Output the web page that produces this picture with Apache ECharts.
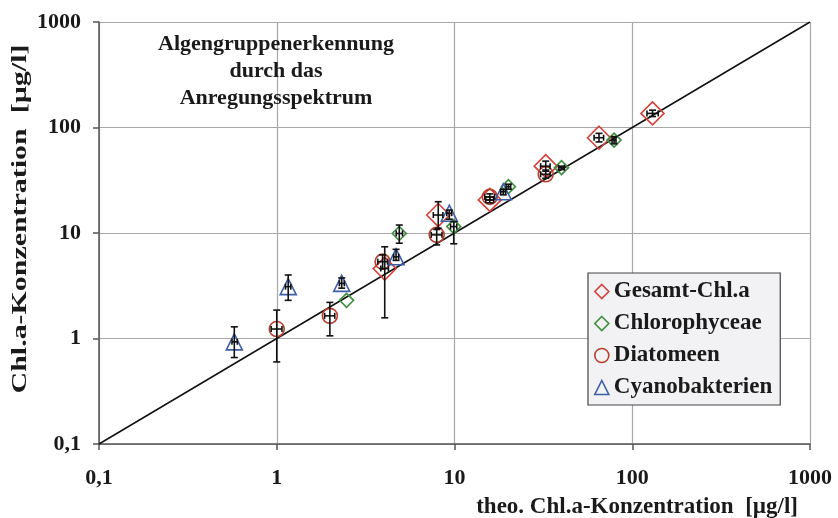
<!DOCTYPE html>
<html>
<head>
<meta charset="utf-8">
<script src="https://cdn.jsdelivr.net/npm/echarts@6/dist/echarts.min.js"></script>
<style>html,body{margin:0;padding:0;background:#fff;}#c{width:838px;height:518px;}</style>
</head>
<body>
<div id="c"></div>
<script>
// ---- data ----
var seriesNames = ['Gesamt-Chl.a', 'Chlorophyceae', 'Diatomeen', 'Cyanobakterien'];
var tickValues = [0.1, 1, 10, 100, 1000];
var tickLabels = ['0,1', '1', '10', '100', '1000'];
var titleLines = ['Algengruppenerkennung', 'durch das', 'Anregungsspektrum'];

// Gesamt-Chl.a
var gesX   = [4.05, 8.1, 15.8, 32.6, 65, 130];
var gesY   = [4.6, 14.8, 20.6, 43, 80, 136];
var gesXLo = [3.85, 7.6, 15.0, 30.5, 61, 121];
var gesXHi = [4.25, 8.6, 16.6, 34.5, 69, 140];
var gesYLo = [1.57, 11.1, 19.3, 38.5, 73, 127];
var gesYHi = [7.4, 19.8, 22.0, 48, 88, 146];
// Chlorophyceae
var chlX   = [2.47, 4.89, 9.9, 20.1, 40, 79];
var chlY   = [2.3, 9.9, 11.5, 27.5, 41.6, 76];
var chlXLo = [2.47, 4.7, 9.5, 19.5, 38.5, 77];
var chlXHi = [2.47, 5.1, 10.3, 20.7, 41.5, 81];
var chlYLo = [2.3, 8.0, 7.9, 26, 40, 70];
var chlYHi = [2.3, 11.9, 12.8, 29, 43, 82];
// Diatomeen
var diaX   = [1.0, 1.99, 3.94, 7.94, 15.8, 32.6];
var diaY   = [1.23, 1.64, 5.35, 9.6, 22, 36];
var diaXLo = [0.93, 1.86, 3.7, 7.4, 14.8, 30.5];
var diaXHi = [1.07, 2.12, 4.2, 8.5, 16.8, 34.5];
var diaYLo = [0.60, 1.06, 4.6, 7.7, 20.5, 33];
var diaYHi = [1.86, 2.2, 6.2, 10.8, 23.5, 39.5];
// Cyanobakterien
var cyaX   = [0.577, 1.16, 2.32, 4.69, 9.35, 18.8];
var cyaY   = [0.93, 3.1, 3.33, 5.95, 15.4, 24.6];
var cyaXLo = [0.56, 1.12, 2.25, 4.55, 9.05, 18.2];
var cyaXHi = [0.60, 1.20, 2.40, 4.85, 9.65, 19.4];
var cyaYLo = [0.66, 2.3, 3.0, 5.5, 13.5, 23];
var cyaYHi = [1.29, 4.0, 3.75, 7.0, 16.5, 26];

var lineX = [0.1, 1000];
var lineY = [0.1, 1000];

// ---- build ----
var FONT = "'Liberation Serif','Times New Roman',serif";
function pts(xs, ys) { return xs.map(function (x, i) { return [x, ys[i]]; }); }
function errs(xs, ys, xl, xh, yl, yh) {
  return xs.map(function (x, i) { return [x, ys[i], xl[i], xh[i], yl[i], yh[i]]; });
}
function fmt(v) {
  var r = Number(Number(v).toPrecision(3));
  var idx = tickValues.indexOf(r);
  return idx >= 0 ? tickLabels[idx] : String(r).replace('.', ',');
}
var colors = ['#d8403a', '#3f8f3f', '#b8402e', '#3d5ea8'];
var symbols = ['diamond', 'diamond', 'circle', 'triangle'];
var sizes = [23, 14, 15, 16];
var groups = [
  errs(gesX, gesY, gesXLo, gesXHi, gesYLo, gesYHi),
  errs(chlX, chlY, chlXLo, chlXHi, chlYLo, chlYHi),
  errs(diaX, diaY, diaXLo, diaXHi, diaYLo, diaYHi),
  errs(cyaX, cyaY, cyaXLo, cyaXHi, cyaYLo, cyaYHi)
];
var pointSets = [pts(gesX, gesY), pts(chlX, chlY), pts(diaX, diaY), pts(cyaX, cyaY)];

function renderErr(params, api) {
  var x = api.value(0), y = api.value(1);
  var xl = api.value(2), xh = api.value(3), yl = api.value(4), yh = api.value(5);
  var children = [];
  var st = { stroke: '#111', lineWidth: 1.6 };
  if (yh > yl) {
    var a = api.coord([x, yh]), b = api.coord([x, yl]);
    children.push({ type: 'line', shape: { x1: a[0], y1: a[1], x2: b[0], y2: b[1] }, style: st });
    children.push({ type: 'line', shape: { x1: a[0] - 3.5, y1: a[1], x2: a[0] + 3.5, y2: a[1] }, style: st });
    children.push({ type: 'line', shape: { x1: b[0] - 3.5, y1: b[1], x2: b[0] + 3.5, y2: b[1] }, style: st });
  }
  if (xh > xl) {
    var c = api.coord([xl, y]), d = api.coord([xh, y]);
    children.push({ type: 'line', shape: { x1: c[0], y1: c[1], x2: d[0], y2: d[1] }, style: st });
    children.push({ type: 'line', shape: { x1: c[0], y1: c[1] - 3, x2: c[0], y2: c[1] + 3 }, style: st });
    children.push({ type: 'line', shape: { x1: d[0], y1: d[1] - 3, x2: d[0], y2: d[1] + 3 }, style: st });
  }
  return { type: 'group', children: children };
}

var series = [{
  type: 'line', name: '1:1', data: pts(lineX, lineY), symbol: 'none', silent: true,
  lineStyle: { color: '#111', width: 1.5 }, z: 2
}];
seriesNames.forEach(function (n, i) {
  series.push({
    type: 'scatter', name: n, data: pointSets[i], symbol: symbols[i], symbolSize: sizes[i],
    itemStyle: { color: 'rgba(255,255,255,0)', borderColor: colors[i], borderWidth: 1.6, opacity: 1 },
    z: 3
  });
});
seriesNames.forEach(function (n, i) {
  series.push({
    type: 'custom', name: n + ' err', data: groups[i], renderItem: renderErr,
    encode: { x: 0, y: 1 }, z: 4, silent: true
  });
});

var axisCommon = {
  type: 'log', logBase: 10, min: 0.1, max: 1000,
  axisLine: { show: true, lineStyle: { color: '#555', width: 1.5 } },
  axisTick: { show: true, inside: false, length: 6, lineStyle: { color: '#555', width: 1.5 } },
  splitLine: { show: true, lineStyle: { color: '#a8a8a8', width: 1.2 } },
  minorTick: { show: false }, minorSplitLine: { show: false },
  axisLabel: { color: '#1a1a1a', fontFamily: FONT, fontWeight: 'bold', fontSize: 22, formatter: fmt }
};

var chart = echarts.init(document.getElementById('c'), null, { renderer: 'canvas' });
chart.setOption({
  animation: false,
  backgroundColor: '#ffffff',
  grid: { left: 99, right: 28, top: 22, bottom: 74, containLabel: false },
  xAxis: echarts.util.merge({ axisLabel: { margin: 23 } }, axisCommon, true),
  yAxis: echarts.util.merge({ axisLabel: { margin: 18 } }, axisCommon, true),
  legend: {
    orient: 'vertical', left: 588, top: 273,
    backgroundColor: '#f2f2f4', borderColor: '#444', borderWidth: 1.2,
    padding: [7, 8, 6, 6], itemGap: 9, itemWidth: 14, itemHeight: 14,
    textStyle: { color: '#1a1a1a', fontFamily: FONT, fontWeight: 'bold', fontSize: 23, lineHeight: 22 },
    data: seriesNames.map(function (n, i) {
      return { name: n, icon: symbols[i],
        itemStyle: { color: 'rgba(255,255,255,0)', borderColor: colors[i], borderWidth: 1.6 } };
    })
  },
  graphic: [
    { type: 'text', x: 276, y: 31, z: 10,
      style: { text: titleLines.join('\n'), fill: '#1a1a1a', font: 'bold 22px ' + FONT,
               lineHeight: 27, align: 'center' } },
    { type: 'text', right: 40, top: 496, z: 10,
      style: { text: 'theo. Chl.a-Konzentration  [\u00b5g/l]', fill: '#1a1a1a', font: 'bold 23px ' + FONT } },
    { type: 'text', x: 9, y: 219, rotation: Math.PI / 2, scaleX: 1.36, z: 10,
      style: { text: 'Chl.a-Konzentration  [\u00b5g/l]', fill: '#1a1a1a', font: 'bold 22px ' + FONT,
               align: 'center', verticalAlign: 'top' } }
  ],
  series: series
});
</script>
</body>
</html>
